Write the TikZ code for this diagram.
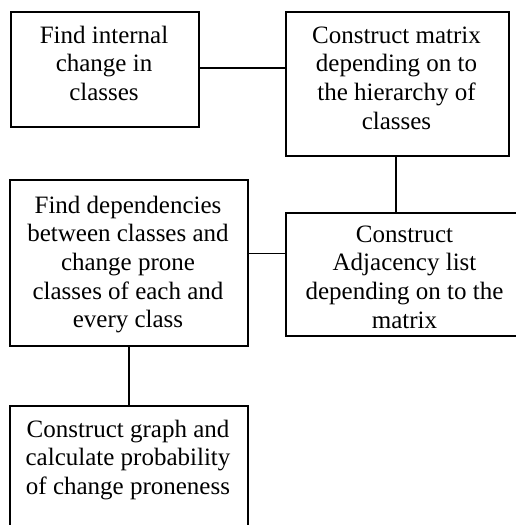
\documentclass[tikz,border=0pt]{standalone}
\usepackage{fontspec}
\setmainfont{Liberation Serif}
\begin{document}
\begin{tikzpicture}[x=1pt,y=-1pt,
  box/.style={draw, line width=1.5pt, inner sep=0pt, anchor=north west},
  txt/.style={anchor=north, inner sep=0pt, align=center, font=\fontsize{25}{28.7}\selectfont},
  link/.style={line width=1.5pt}]
\useasboundingbox (0,0) rectangle (516,525);
\clip (0,0) rectangle (516,525);
\node[box, minimum width=188pt, minimum height=115pt] (A) at (10,11) {};
\node[box, minimum width=223pt, minimum height=144pt] (B) at (285,11) {};
\node[box, minimum width=239pt, minimum height=123pt] (C) at (285,212) {};
\node[box, minimum width=238pt, minimum height=166pt] (D) at (9,179) {};
\node[box, minimum width=238pt, minimum height=150pt] (E) at (9,405) {};
\node[txt] (tA) at (104,22.9) {\strut Find internal\\change in\\classes};
\node[txt] (tB) at (396.5,22.9) {\strut Construct matrix\\depending on to\\the hierarchy of\\classes};
\node[txt] (tC) at (404.5,221.9) {\strut Construct\\Adjacency list\\depending on to the\\matrix};
\node[txt] (tD) at (128,192.9) {\strut Find dependencies\\between classes and\\change prone\\classes of each and\\every class};
\node[txt] (tE) at (128,416.9) {\strut Construct graph and\\calculate probability\\of change proneness};
\draw[link] ([yshift=1.5pt]A.east) -- ([yshift=1.5pt]A.east -| B.west);
\draw[link] ([xshift=-1.5pt]B.south) -- ([xshift=-1.5pt]B.south |- C.north);
\draw[link] ([yshift=9.5pt]D.east) -- ([yshift=9.5pt]D.east -| C.west);
\draw[link] (D.south) -- (E.north);
\end{tikzpicture}
\end{document}
